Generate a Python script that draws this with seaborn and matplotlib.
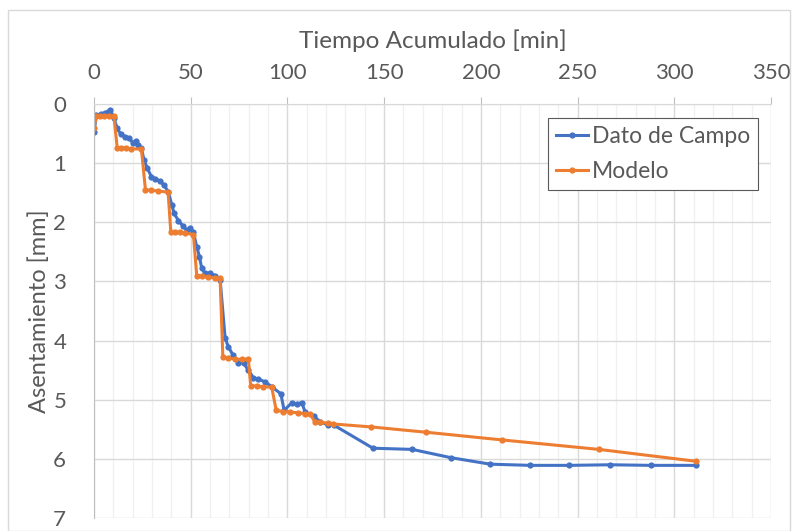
import pandas as pd
import seaborn as sns
import matplotlib.pyplot as plt
import numpy as np
from matplotlib.patches import Rectangle

# Dato de Campo (measured)
t_campo = [0, 1.2, 3.8, 5.9, 7.2, 8.4, 10.3, 12.0, 13.8, 15.9, 17.9, 20.2, 21.5, 22.8,
           24.5, 25.9, 27.6, 29.7, 31.4, 34.0, 36.2, 38.3, 40.2, 41.4, 43.6, 46.2, 47.9,
           49.7, 51.4, 53.1, 54.5, 55.7, 57.4, 60.0, 62.6, 65.2, 67.8, 69.5, 71.8, 74.7,
           77.3, 79.8, 82.4, 85.0, 88.5, 91.9, 96.6, 98.3, 102.3, 104.8, 107.4, 109.2,
           113.5, 117.0, 121.0, 124.0, 144.2, 164.5, 184.5, 204.9, 225.5, 245.5, 267.0,
           288.0, 311.0]
s_campo = [0.48, 0.19, 0.17, 0.15, 0.13, 0.10, 0.24, 0.41, 0.51, 0.55, 0.57, 0.66, 0.62, 0.70,
           0.75, 0.95, 1.09, 1.23, 1.26, 1.30, 1.37, 1.48, 1.70, 1.85, 1.97, 2.07, 2.13,
           2.10, 2.17, 2.41, 2.58, 2.78, 2.86, 2.86, 2.90, 2.97, 3.96, 4.11, 4.24, 4.38,
           4.38, 4.50, 4.63, 4.65, 4.70, 4.78, 4.90, 5.18, 5.05, 5.07, 5.05, 5.21,
           5.28, 5.37, 5.43, 5.43, 5.82, 5.84, 5.98, 6.09, 6.11, 6.11, 6.10,
           6.11, 6.11]

# Modelo
t_modelo = [0, 1.2, 3.0, 5.2, 7.6, 10.3, 12.0, 14.1, 16.7, 19.3, 24.5, 26.6, 29.6, 33.1,
            38.3, 39.7, 41.9, 44.5, 47.1, 51.4, 53.1, 55.7, 59.1, 62.6, 65.2, 66.6, 69.5,
            73.0, 76.4, 79.8, 81.0, 84.2, 87.6, 91.9, 94.2, 97.9, 101.4, 105.7, 109.0,
            111.7, 114.3, 117.0, 121.0, 123.7, 143.3, 171.8, 211.0, 261.0, 311.0]
s_modelo = [0.40, 0.21, 0.21, 0.20, 0.20, 0.21, 0.74, 0.74, 0.74, 0.76, 0.76, 1.45, 1.46, 1.47,
            1.49, 2.16, 2.17, 2.17, 2.18, 2.21, 2.90, 2.91, 2.93, 2.94, 2.95, 4.27, 4.30,
            4.31, 4.32, 4.31, 4.76, 4.77, 4.78, 4.79, 5.18, 5.20, 5.21, 5.22, 5.24,
            5.24, 5.38, 5.38, 5.40, 5.41, 5.46, 5.55, 5.68, 5.84, 6.04]

data = pd.concat([
    pd.DataFrame({"t": t_campo, "s": s_campo, "serie": "Dato de Campo"}),
    pd.DataFrame({"t": t_modelo, "s": s_modelo, "serie": "Modelo"}),
])

plt.rcParams["font.family"] = ["Lato", "DejaVu Sans"]
txt = "#595959"
my_pal = {"Dato de Campo": "#4472C4", "Modelo": "#ED7D31"}

fig = plt.figure(figsize=(7.92, 5.31), dpi=100)
ax = fig.add_axes([94/792, 1 - 518/531, (771 - 94)/792, (518 - 104)/531])

fig.patches.append(Rectangle((8/792, 0), 782/792, 1 - 10/531, transform=fig.transFigure,
                             fill=False, edgecolor="#d9d9d9", linewidth=1))

sns.lineplot(data=data, x="t", y="s", hue="serie", palette=my_pal, ax=ax,
             marker="o", markersize=4.5, markeredgewidth=0, linewidth=2.2,
             estimator=None, sort=False)

ax.set_xlim(0, 350)
ax.set_ylim(7, 0)
ax.xaxis.tick_top()
ax.xaxis.set_label_position("top")
ax.set_xticks(np.arange(0, 351, 50))
ax.set_xticks(np.arange(0, 351, 10), minor=True)
ax.set_yticks(np.arange(0, 8, 1))
ax.grid(which="major", axis="both", color="#d9d9d9", linewidth=1)
ax.grid(which="minor", axis="x", color="#f0f0f0", linewidth=1)
ax.set_axisbelow(True)

ax.tick_params(axis="x", which="major", length=5, color="#bfbfbf", labelsize=16,
               labelcolor=txt, pad=10)
ax.tick_params(axis="x", which="minor", length=0)
ax.tick_params(axis="y", length=0, labelsize=16, labelcolor=txt, pad=20)

ax.set_xlabel("Tiempo Acumulado [min]", fontsize=17.5, color=txt, labelpad=11)
ax.set_ylabel("Asentamiento [mm]", fontsize=17, color=txt, labelpad=2)

for side in ["right", "bottom"]:
    ax.spines[side].set_visible(False)
ax.spines["left"].set_color("#bfbfbf")
ax.spines["top"].set_color("#d9d9d9")

handles, labels = ax.get_legend_handles_labels()
leg = ax.legend(handles=handles, labels=labels, loc="upper right",
                bbox_to_anchor=(0.981, 0.966), fontsize=16.5, frameon=True, fancybox=False,
                handlelength=1.4, handletextpad=0.15, borderpad=0.35, labelspacing=0.6,
                borderaxespad=0, framealpha=1)
leg.get_frame().set_edgecolor("#595959")
leg.get_frame().set_linewidth(0.8)
for t in leg.get_texts():
    t.set_color(txt)

fig.savefig("out.png", dpi=100)
